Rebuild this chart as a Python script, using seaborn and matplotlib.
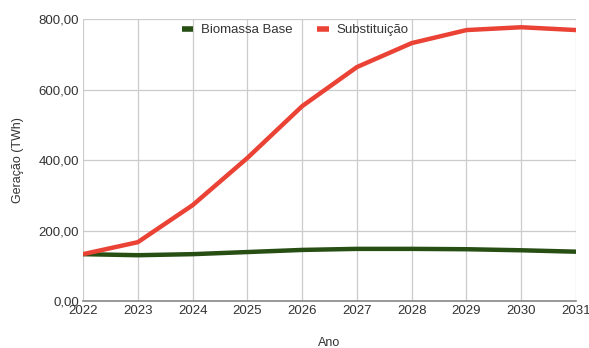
import matplotlib
matplotlib.use("Agg")
import matplotlib.pyplot as plt
import seaborn as sns
import pandas as pd
from matplotlib.ticker import FuncFormatter, MultipleLocator

anos = [2022, 2023, 2024, 2025, 2026, 2027, 2028, 2029, 2030, 2031]
biomassa_base = [133, 130, 133, 139, 145, 148, 148, 147, 144, 140]
substituicao = [133, 167, 272, 406, 553, 664, 732, 769, 777, 769]
series_names = ["Biomassa Base", "Substituição"]
colors = ["#274e13", "#ea4335"]

df = pd.DataFrame({"Ano": anos * 2,
                   "valor": biomassa_base + substituicao,
                   "serie": [series_names[0]] * len(anos) + [series_names[1]] * len(anos)})

sns.set_theme(style="white")
plt.rcParams['font.family'] = ['Liberation Sans', 'DejaVu Sans']

fig = plt.figure(figsize=(5.89, 3.48), dpi=100)
ax = fig.add_axes([0.141, 0.135, 0.837, 0.81])
sns.lineplot(data=df, x="Ano", y="valor", hue="serie", palette=colors,
             linewidth=3.2, ax=ax, legend=True)
for ln in ax.get_lines():
    ln.set_solid_capstyle("butt")

ax.set_xlim(2022, 2031)
ax.set_ylim(0, 800)
ax.xaxis.set_major_locator(MultipleLocator(1))
ax.yaxis.set_major_locator(MultipleLocator(200))
ax.yaxis.set_major_formatter(FuncFormatter(lambda v, p: f"{v:.2f}".replace(".", ",")))
ax.grid(True, color="#cccccc", linewidth=0.9)
for s in ["top", "right", "left"]:
    ax.spines[s].set_visible(False)
ax.spines["bottom"].set_color("#888888")
ax.spines["bottom"].set_linewidth(1.2)
ax.tick_params(axis="both", length=0, labelsize=9.5, colors="#333333", pad=3)
ax.set_xlabel("Ano", fontsize=9, color="#333333", labelpad=14)
ax.set_ylabel("Geração (TWh)", fontsize=9, color="#333333", labelpad=10)

leg = ax.legend(loc="upper center", bbox_to_anchor=(0.43, 1.025), ncol=2, frameon=False,
                fontsize=9.5, handlelength=0.9, columnspacing=1.8, handletextpad=0.6)
for t in leg.get_texts():
    t.set_color("#333333")
for h in leg.get_lines():
    h.set_linewidth(4)
    h.set_solid_capstyle("butt")

fig.savefig("out.png", dpi=100)
